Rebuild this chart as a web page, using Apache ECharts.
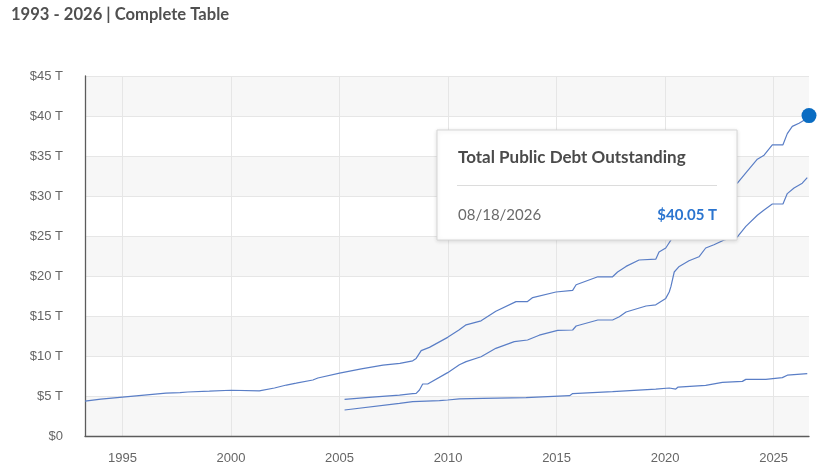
<!DOCTYPE html>
<html>
<head>
<meta charset="utf-8">
<script src="https://cdn.jsdelivr.net/npm/echarts@6/dist/echarts.min.js"></script>
<style>
html,body{margin:0;padding:0;background:#fff;}
#chart{width:838px;height:475px;}
</style>
</head>
<body>
<div id="chart"></div>
<script>
// Decimal years and values in trillions of dollars
const totalYears = [1993.27,1994,1995,1996,1997,1997.65,1998,1999,2000,2001.3,2002,2002.55,2003,2003.77,2004,2005,2006,2007,2007.78,2008.37,2008.53,2008.76,2009.14,2009.98,2010.5,2010.83,2011.52,2012.2,2013.13,2013.66,2013.9,2014.97,2015.74,2015.9,2016.9,2017.58,2017.81,2018.2,2018.8,2019.57,2019.72,2020.03,2020.27,2020.5,2021,2021.6,2022,2022.5,2022.9,2023.33,2023.72,2024.25,2024.56,2024.94,2025.43,2025.63,2025.86,2026.17,2026.48,2026.63];
const totalDebt  = [4.35,4.6,4.85,5.1,5.35,5.42,5.5,5.6,5.72,5.65,6.0,6.37,6.6,7.0,7.25,7.85,8.4,8.85,9.08,9.4,9.7,10.67,11.08,12.33,13.25,13.9,14.4,15.6,16.8,16.8,17.3,18.0,18.2,18.9,19.9,19.9,20.5,21.2,22.0,22.1,23.0,23.5,24.5,26.5,27.8,28.5,29.6,30.6,31.4,31.6,32.9,34.6,35.1,36.4,36.4,37.8,38.7,39.1,39.6,40.05];

const publicYears = [2005.23,2006.5,2007.76,2008.37,2008.53,2008.68,2008.83,2009.06,2009.14,2009.98,2010.52,2010.83,2011.52,2012.2,2013.05,2013.66,2014.2,2015.05,2015.74,2015.9,2016.9,2017.58,2017.89,2018.2,2019.12,2019.57,2020.03,2020.19,2020.27,2020.42,2020.65,2021.1,2021.56,2021.87,2022.25,2022.72,2023.33,2023.72,2024.25,2024.56,2024.94,2025.43,2025.63,2025.94,2026.32,2026.55];
const publicDebt  = [4.58,4.85,5.12,5.3,5.33,5.75,6.5,6.5,6.67,7.92,8.9,9.3,9.9,10.96,11.8,12.0,12.6,13.2,13.25,13.75,14.5,14.5,14.9,15.5,16.25,16.4,17.2,18.0,18.7,20.5,21.2,21.9,22.4,23.5,23.9,24.5,24.9,26.2,27.6,28.25,29.0,29.0,30.3,31.0,31.6,32.3];

const intraYears = [2005.23,2007.76,2008.37,2009.6,2009.98,2010.52,2011.6,2013.59,2015.6,2015.74,2017.58,2017.66,2019.57,2019.65,2020.19,2020.49,2020.6,2021.87,2022.64,2023.56,2023.72,2024.64,2024.71,2025.4,2025.63,2026.55];
const intraDebt  = [3.25,4.08,4.3,4.42,4.5,4.63,4.7,4.8,5.04,5.3,5.54,5.75,5.87,6.04,6.0,5.87,6.12,6.33,6.7,6.83,7.08,7.08,7.33,7.3,7.6,7.8];

const yTicks = [0,5,10,15,20,25,30,35,40,45];
const headerText = '1993 - 2026 | Complete Table';
const tipTitle = 'Total Public Debt Outstanding';
const tipDate = '08/18/2026';

function zip(xs, ys){ return xs.map((x,i)=>[x, ys[i]]); }
const lastIdx = totalYears.length - 1;
const lastPoint = [totalYears[lastIdx], totalDebt[lastIdx]];

const lineColor = '#5a7ec6';
const chart = echarts.init(document.getElementById('chart'), null, {renderer:'canvas'});
const lineStyle = {color: lineColor, width: 1.2};
const uiFont = 'Lato, "Open Sans", sans-serif';

chart.setOption({
  animation: false,
  backgroundColor: '#fff',
  grid: {left: 85, right: 29, top: 76, bottom: 39},
  xAxis: {
    type: 'value',
    min: totalYears[0],
    max: lastPoint[0],
    axisLine: {show: true, lineStyle: {color: '#5c5c5c', width: 1.3}},
    axisTick: {show: false},
    axisLabel: {
      color: '#666', fontSize: 13, fontFamily: 'Liberation Sans, Arial, sans-serif', margin: 16,
      formatter: v => (Math.abs(v % 5) < 1e-6 ? String(Math.round(v)) : '')
    },
    splitLine: {show: true, showMinLine: false, showMaxLine: false, lineStyle: {color: '#e6e6e6', width: 1}}
  },
  yAxis: {
    type: 'value',
    min: yTicks[0],
    max: yTicks[yTicks.length-1],
    interval: yTicks[1] - yTicks[0],
    axisLine: {show: true, lineStyle: {color: '#5c5c5c', width: 1.3}},
    axisTick: {show: false},
    axisLabel: {
      color: '#666', fontSize: 13, fontFamily: 'Liberation Sans, Arial, sans-serif', margin: 22,
      formatter: v => v === 0 ? '$0' : '$' + v + ' T'
    },
    splitLine: {show: true, lineStyle: {color: '#e6e6e6', width: 1}},
    splitArea: {show: true, areaStyle: {color: ['#f7f7f7', '#ffffff']}}
  },
  series: [
    {type: 'line', data: zip(totalYears, totalDebt), showSymbol: false, lineStyle: lineStyle, z: 2},
    {type: 'line', data: zip(publicYears, publicDebt), showSymbol: false, lineStyle: lineStyle, z: 2},
    {type: 'line', data: zip(intraYears, intraDebt), showSymbol: false, lineStyle: lineStyle, z: 2},
    {type: 'scatter', data: [lastPoint], symbolSize: 15, itemStyle: {color: '#0a6cc2', opacity: 1}, z: 5}
  ],
  graphic: {elements: [
    {type: 'text', x: 11, y: 6, z: 100, style: {text: headerText, fill: '#505050', font: 'bold 16.6px ' + uiFont}},
    {type: 'rect', z: 100, shape: {x: 437, y: 130, width: 300, height: 110},
     style: {fill: '#ffffff', stroke: '#d6d6d6', lineWidth: 1, shadowBlur: 4, shadowColor: 'rgba(0,0,0,0.12)', shadowOffsetY: 1}},
    {type: 'text', z: 101, x: 458, y: 149, style: {text: tipTitle, fill: '#4a4a4a', font: 'bold 17px ' + uiFont}},
    {type: 'line', z: 101, shape: {x1: 457, y1: 185.5, x2: 717, y2: 185.5}, style: {stroke: '#dcdcdc', lineWidth: 1}},
    {type: 'text', z: 101, x: 458, y: 208, style: {text: tipDate, fill: '#6a6a6a', font: '15px ' + uiFont}},
    {type: 'text', z: 101, x: 717, y: 208, style: {text: '$' + lastPoint[1].toFixed(2) + ' T', fill: '#2a74cf', align: 'right', font: 'bold 15px ' + uiFont}}
  ]}
});
</script>
</body>
</html>
